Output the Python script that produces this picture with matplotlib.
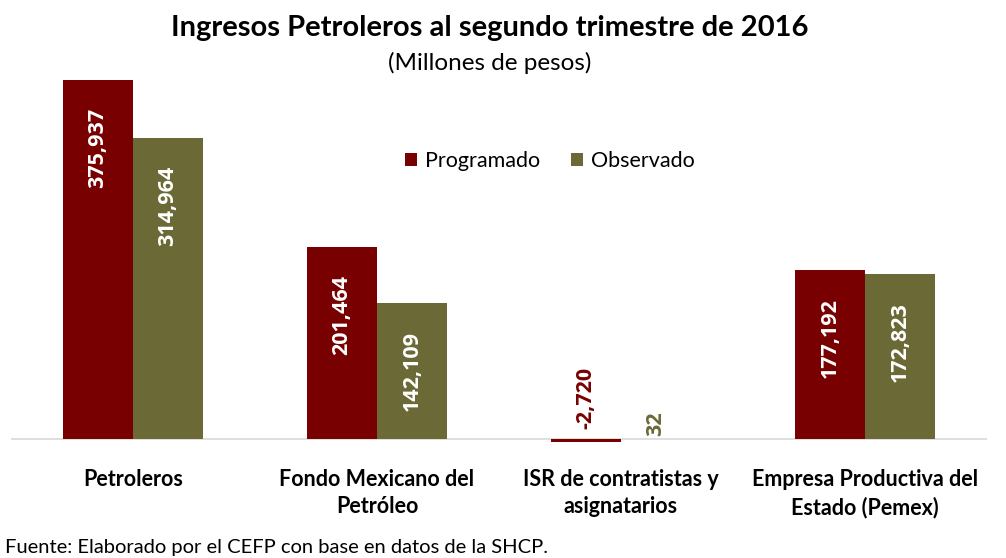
import matplotlib
matplotlib.use("Agg")
import matplotlib.pyplot as plt
import numpy as np

categories = ["Petroleros", "Fondo Mexicano del\nPetróleo", "ISR de contratistas y\nasignatarios", "Empresa Productiva del\nEstado (Pemex)"]
programado = [375937, 201464, -2720, 177192]
observado = [314964, 142109, 32, 172823]
series_names = ["Programado", "Observado"]
colors = ["#780000", "#6B6A37"]

plt.rcParams['font.family'] = ['Lato', 'DejaVu Sans']

W, H = 1006, 558
fig = plt.figure(figsize=(W/100, H/100), dpi=100)
ax = fig.add_axes([11/W, 1 - 448.5/H, (987-11)/W, (448.5-57)/H])
ax.set_xlim(-0.5, 3.5)
ax.set_ylim(-10000, 400000)

x = np.arange(len(categories))
bw = 70/244
b1 = ax.bar(x - bw/2, programado, bw, color=colors[0], label=series_names[0])
b2 = ax.bar(x + bw/2, observado, bw, color=colors[1], label=series_names[1])

def fmt(v):
    return f"{v:,}"

lab_font = ['Open Sans', 'DejaVu Sans']
for bars, vals, col in [(b1, programado, colors[0]), (b2, observado, colors[1])]:
    for rect, v in zip(bars, vals):
        cx = rect.get_x() + rect.get_width()/2
        if abs(v) > 50000:
            ax.annotate(fmt(v), (cx, v), xytext=(0, -28), textcoords="offset pixels",
                        rotation=90, ha="center", va="top", color="white",
                        fontsize=15.5, fontweight="bold", family=lab_font)
        else:
            off = 10 if v < 0 else 3
            ax.annotate(fmt(v), (cx, 0), xytext=(0, off), textcoords="offset pixels",
                        rotation=90, ha="center", va="bottom", color=col,
                        fontsize=15.5, fontweight="bold", family=lab_font)

ax.axhline(0, color="#D9D9D9", lw=1.2, zorder=0)
for s in ax.spines.values():
    s.set_visible(False)
ax.set_xticks([])
ax.set_yticks([])

for i, c in enumerate(categories):
    fig.text((133 + 244*i)/W, 1 - 469/H, c, ha="center", va="top",
             fontsize=15.5, fontweight="bold", linespacing=1.35)

fig.text(490/W, 1 - 28/H, "Ingresos Petroleros al segundo trimestre de 2016",
         ha="center", va="center", fontsize=21, fontweight="bold")
fig.text(490/W, 1 - 63/H, "(Millones de pesos)", ha="center", va="center", fontsize=17.5)

leg = ax.legend(loc="center", bbox_to_anchor=(550/W, 1 - 161/H), bbox_transform=fig.transFigure,
                ncol=2, frameon=False, fontsize=15.5, handlelength=0.55, handleheight=0.55,
                handletextpad=0.4, columnspacing=1.4)

fig.text(5/W, 1 - 548/H, "Fuente: Elaborado por el CEFP con base en datos de la SHCP.",
         ha="left", va="center", fontsize=14.5)

fig.savefig("out.png", dpi=100, facecolor="white")
